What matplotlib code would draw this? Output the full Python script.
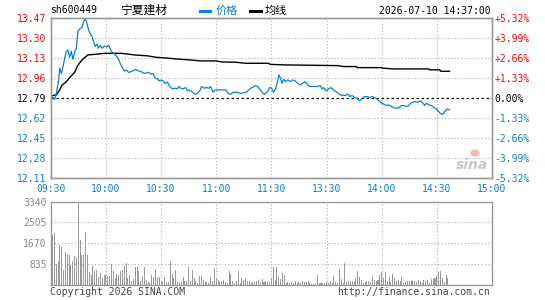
import matplotlib
matplotlib.use("Agg")
import matplotlib.pyplot as plt
import numpy as np

# ---------------- data ----------------
stock_code = "sh600449"
stock_name = "宁夏建材"
timestamp = "2026-07-10 14:37:00"
pre_close = 12.79
price_ticks = [12.11, 12.28, 12.45, 12.62, 12.79, 12.96, 13.13, 13.30, 13.47]
time_labels = ["09:30", "10:00", "10:30", "11:00", "11:30", "13:30", "14:00", "14:30", "15:00"]
time_tick_minutes = [0, 30, 60, 90, 120, 150, 180, 210, 240]
vol_ticks = [835, 1670, 2505, 3340]

# (trading minute since 09:30, price)
price_points = [
    (0, 12.82), (2.2, 12.78), (3.1, 12.83), (4.3, 12.945), (4.9, 13.045), (5.8, 13.0),
    (6.7, 13.06), (7.6, 13.13), (8.5, 13.19), (9.4, 13.20), (10.3, 13.14), (11.2, 13.19),
    (12.1, 13.12), (13.0, 13.18), (13.9, 13.215), (14.8, 13.356), (15.7, 13.38), (17.0, 13.39),
    (17.9, 13.44), (18.8, 13.47), (19.7, 13.43), (20.6, 13.37), (21.5, 13.34), (22.4, 13.32),
    (23.3, 13.27), (24.2, 13.23), (25.1, 13.25), (26.0, 13.215), (26.9, 13.24), (27.9, 13.215),
    (29.3, 13.235), (30.6, 13.225), (31.6, 13.24), (32.6, 13.2), (33.5, 13.18), (34.7, 13.165),
    (36.0, 13.145), (37.1, 13.115), (38.0, 13.08), (39.1, 13.045), (40.2, 13.02), (41.2, 13.03),
    (42.3, 13.01), (43.8, 13.015), (45.2, 13.027), (46.3, 13.035), (47.4, 13.025), (49.2, 13.015),
    (51.0, 13.0), (53.2, 13.01), (54.5, 12.994), (55.7, 13.0), (56.8, 12.96), (58.1, 12.954),
    (59.0, 12.937), (59.9, 12.945), (61.1, 12.937), (62.2, 12.917), (63.5, 12.926), (64.4, 12.897),
    (65.3, 12.88), (66.2, 12.869), (67.7, 12.875), (68.9, 12.869), (69.8, 12.889), (70.7, 12.875),
    (72.0, 12.869), (73.5, 12.88), (74.4, 12.852), (75.6, 12.86), (77.1, 12.84), (78.5, 12.823),
    (79.8, 12.83), (81.1, 12.852), (82.1, 12.889), (83.4, 12.875), (84.7, 12.88), (86.1, 12.875),
    (87.0, 12.889), (88.3, 12.84), (89.4, 12.86), (91.6, 12.86), (95.2, 12.86), (96.6, 12.83),
    (97.9, 12.823), (99.1, 12.84), (101.5, 12.84), (103.3, 12.83), (105.1, 12.837), (106.4, 12.84),
    (107.7, 12.86), (108.9, 12.875), (110.4, 12.889), (111.5, 12.897), (112.5, 12.889), (113.6, 12.869),
    (114.9, 12.84), (116.2, 12.823), (117.6, 12.84), (119.1, 12.88), (120.1, 12.875), (121.2, 12.84),
    (122.3, 12.869), (123.4, 12.931), (124.1, 12.988), (124.8, 12.965), (125.8, 12.917), (126.7, 12.95),
    (127.6, 12.931), (128.8, 12.945), (130.3, 12.931), (131.7, 12.945), (133.0, 12.937), (134.3, 12.917),
    (135.7, 12.903), (137.2, 12.917), (138.4, 12.931), (139.7, 12.903), (141.1, 12.889), (142.9, 12.889),
    (145.1, 12.889), (146.6, 12.897), (147.5, 12.869), (148.4, 12.88), (149.8, 12.852), (151.1, 12.869),
    (152.4, 12.88), (153.8, 12.86), (155.6, 12.84), (157.4, 12.818), (159.9, 12.812), (161.8, 12.823),
    (162.7, 12.803), (163.9, 12.812), (165.4, 12.795), (166.8, 12.784), (168.1, 12.767), (169.4, 12.79),
    (170.8, 12.803), (172.3, 12.803), (173.5, 12.795), (174.8, 12.803), (175.9, 12.795), (177.1, 12.79),
    (178.4, 12.767), (179.9, 12.747), (181.3, 12.739), (182.6, 12.727), (183.8, 12.733), (185.3, 12.719),
    (187.1, 12.705), (189.3, 12.705), (190.7, 12.727), (192.2, 12.727), (193.4, 12.719), (194.7, 12.727),
    (195.8, 12.747), (197.0, 12.756), (198.3, 12.76), (199.8, 12.756), (201.2, 12.767), (202.5, 12.747),
    (203.4, 12.727), (204.3, 12.747), (205.6, 12.733), (207.0, 12.727), (208.5, 12.71), (209.7, 12.699),
    (211.0, 12.676), (212.1, 12.656), (213.3, 12.653), (214.6, 12.682), (215.7, 12.699), (216.9, 12.69),
]

avg_points = [
    (0.3, 12.81), (3.1, 12.818), (4.9, 12.86), (6.1, 12.90), (8.5, 12.93), (10.3, 12.965),
    (13.0, 13.01), (14.8, 13.07), (16.6, 13.107), (18.4, 13.135), (20.3, 13.158), (23.9, 13.163),
    (29.3, 13.172), (38.3, 13.172), (45.6, 13.158), (52.8, 13.15), (57.2, 13.138), (64.4, 13.13),
    (68.0, 13.124), (76.2, 13.115), (81.6, 13.107), (89.7, 13.107), (93.4, 13.098), (100.6, 13.096),
    (106.0, 13.087), (118.5, 13.087), (119.4, 13.078), (127.6, 13.073), (156.5, 13.067), (159.2, 13.059),
    (166.3, 13.059), (166.8, 13.05), (179.9, 13.05), (180.8, 13.045), (186.2, 13.039), (205.6, 13.039),
    (206.1, 13.031), (211.5, 13.031), (212.1, 13.019), (216.9, 13.019),
]

# per-minute volume (lots)
volumes = [2013, 2080, 840, 973, 1613, 1506, 613, 1320, 1240, 1213, 813, 973, 1173, 1120, 3340, 1813,
           1213, 1213, 2120, 1213, 520, 413, 746, 546, 613, 306, 480, 280, 386, 413, 373, 373, 840, 546,
           280, 440, 386, 573, 586, 746, 880, 280, 386, 146, 250, 706, 706, 573, 173, 346, 720, 213, 120,
           80, 386, 306, 640, 320, 320, 173, 120, 333, 120, 106, 920, 440, 280, 613, 120, 120, 106, 306,
           173, 146, 706, 146, 613, 280, 146, 80, 346, 346, 213, 120, 106, 80, 306, 173, 680, 280, 213,
           120, 146, 200, 120, 80, 546, 440, 173, 80, 146, 546, 80, 280, 213, 253, 146, 146, 80, 106, 120,
           173, 213, 120, 240, 120, 146, 120, 120, 280, 706, 213, 720, 306, 253, 480, 386, 80, 120, 80,
           120, 80, 173, 80, 120, 80, 146, 120, 106, 146, 80, 53, 53, 53, 413, 66, 66, 66, 80, 120, 80,
           173, 80, 346, 120, 80, 653, 240, 80, 880, 120, 146, 173, 146, 106, 280, 573, 306, 213, 80, 120,
           146, 173, 120, 346, 213, 173, 213, 386, 520, 280, 520, 146, 306, 120, 440, 280, 146, 213, 146,
           306, 80, 120, 146, 146, 213, 173, 146, 120, 213, 146, 80, 213, 173, 213, 80, 253, 240, 280, 346,
           520, 546, 280, 120, 386, 280]

# ---------------- style ----------------
RED = "#ff0000"
BLUE = "#0a7fd0"
LINEBLUE = "#0a80d2"
GRID = "#aaaaaa"
FRAME = "#999999"
MONO = "DejaVu Sans Mono"
CJK = ["Noto Sans CJK SC", "DejaVu Sans"]

W, H = 545, 300
fig = plt.figure(figsize=(W / 100, H / 100), dpi=100)
fig.patch.set_facecolor("white")


def fx(px):
    return px / W


def fy(py):
    return 1 - py / H


L, R = 50.7, 492.0
ax = fig.add_axes([fx(L), fy(178), fx(R - L), (178 - 18.3) / H])
vax = fig.add_axes([fx(L), fy(285), fx(R - L), (285 - 201.5) / H])

pm, pp = zip(*price_points)
am, ap = zip(*avg_points)

ax.set_xlim(0, 240)
ax.set_ylim(price_ticks[0], price_ticks[-1])
for v in price_ticks[1:-1]:
    if abs(v - pre_close) < 1e-9:
        continue
    ax.axhline(v, color=GRID, lw=0.8, dashes=(1, 2))
for m in time_tick_minutes[1:-1]:
    ax.axvline(m, color=GRID, lw=0.8, dashes=(1, 2))
ax.axhline(pre_close, color="black", lw=0.9, dashes=(2, 2))
ax.plot(am, ap, color="black", lw=1.0, solid_joinstyle="miter")
ax.plot(pm, pp, color=LINEBLUE, lw=0.9)

ax.set_yticks(price_ticks)
ax.set_yticklabels([f"{v:.2f}" for v in price_ticks], fontfamily=MONO, fontsize=7)
for lab, v in zip(ax.get_yticklabels(), price_ticks):
    lab.set_color(RED if v > pre_close + 1e-9 else ("black" if abs(v - pre_close) < 1e-9 else BLUE))
ax.set_xticks(time_tick_minutes)
ax.set_xticklabels(time_labels, fontfamily=MONO, fontsize=7, color=BLUE)
ax.tick_params(axis="both", length=0)
ax.tick_params(axis="y", pad=3)
ax.tick_params(axis="x", pad=4)

ax2 = ax.twinx()
ax2.set_ylim(ax.get_ylim())
ax2.set_yticks(price_ticks)
pct_labels = []
for v in price_ticks:
    pct = (v - pre_close) / pre_close * 100
    pct_labels.append("0.00%" if abs(pct) < 1e-9 else f"{pct:+.2f}%")
ax2.set_yticklabels(pct_labels, fontfamily=MONO, fontsize=7)
for lab, v in zip(ax2.get_yticklabels(), price_ticks):
    lab.set_color(RED if v > pre_close + 1e-9 else ("black" if abs(v - pre_close) < 1e-9 else BLUE))
ax2.tick_params(axis="y", length=0, pad=2)

for a in (ax, ax2, vax):
    for s in a.spines.values():
        s.set_color(FRAME)
        s.set_linewidth(1.0)

# volume panel
vax.set_xlim(0, 240)
vax.set_ylim(0, vol_ticks[-1])
for v in vol_ticks[:-1]:
    vax.axhline(v, color=GRID, lw=0.8, dashes=(1, 2))
for m in time_tick_minutes[1:-1]:
    vax.axvline(m, color=GRID, lw=0.8, dashes=(1, 2))
vx = np.arange(len(volumes)) + 1
vax.bar(vx, volumes, width=0.55, color="#999999", linewidth=0)
vax.set_yticks(vol_ticks)
vax.set_yticklabels([str(v) for v in vol_ticks], fontfamily=MONO, fontsize=7, color="#888888")
vax.set_xticks([])
vax.tick_params(axis="y", length=0, pad=3)

# header
fig.text(fx(50), fy(10), stock_code, fontfamily=MONO, fontsize=7, va="center", ha="left")
fig.text(fx(120), fy(10), stock_name, fontfamily=CJK, fontsize=8.5, va="center", ha="left")
fig.add_artist(plt.Line2D([fx(200), fx(210)], [fy(11), fy(11)], color=LINEBLUE, lw=2.2))
fig.text(fx(216), fy(10.5), "价格", fontfamily=CJK, fontsize=8, va="center", ha="left", color=LINEBLUE)
fig.add_artist(plt.Line2D([fx(250), fx(261)], [fy(11), fy(11)], color="black", lw=2.2))
fig.text(fx(265), fy(10.5), "均线", fontfamily=CJK, fontsize=8, va="center", ha="left", color="black")
fig.text(fx(491), fy(10.5), timestamp, fontfamily=MONO, fontsize=7, va="center", ha="right")

# footer
fig.text(fx(50), fy(292), "Copyright 2026 SINA.COM", fontfamily=MONO, fontsize=7,
         va="center", ha="left", color="#444444")
fig.text(fx(490), fy(292), "http://finance.sina.com.cn", fontfamily=MONO, fontsize=7,
         va="center", ha="right", color="#444444")

# watermark
fig.text(fx(472), fy(165), "sina", fontfamily="DejaVu Sans", fontsize=10, fontstyle="italic",
         fontweight="bold", color="#c8c8c8", ha="center", va="center")
fig.add_artist(matplotlib.patches.Ellipse((fx(475), fy(153)), 9 / W, 7 / H,
                                          facecolor="#f4b6b6", edgecolor="none"))

fig.savefig("out.png", dpi=100)
